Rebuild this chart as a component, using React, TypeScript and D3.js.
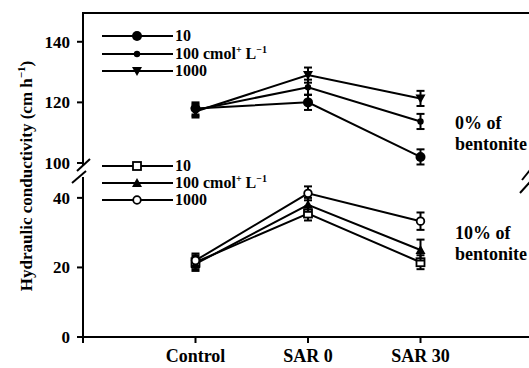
import { useEffect, useRef } from 'react';
import * as d3 from 'd3';

// x positions (index) and labels
const categories = ['Control', 'SAR 0', 'SAR 30'];

// 0% bentonite (upper panel)
const upperNames = ['10', '100', '1000'];
const upperValues = [
  [118, 120, 102],
  [117.5, 125, 113.7],
  [117, 129, 121.3],
];
const upperErrors = [
  [2, 2.5, 2.5],
  [2, 2.5, 2.5],
  [2, 2.5, 2.5],
];

// 10% bentonite (lower panel)
const lowerNames = ['10', '100', '1000'];
const lowerValues = [
  [21.5, 35.5, 21.5],
  [21, 38, 25],
  [22, 41.3, 33.3],
];
const lowerErrors = [
  [2, 2, 2],
  [2, 2, 3],
  [2, 2, 2.5],
];

const upperTicks = [100, 120, 140];
const lowerTicks = [0, 20, 40];

export default function App() {
  const ref = useRef<SVGSVGElement>(null);

  useEffect(() => {
    if (!ref.current) return;
    const svg = d3.select(ref.current);
    svg.selectAll('*').remove();
    const font = "'Liberation Serif', 'Times New Roman', Times, 'DejaVu Serif', serif";

    const x = d3.scaleLinear().domain([0, 4]).range([83, 533]);
    const yU = d3.scaleLinear().domain([99, 149.5]).range([166, 13]);
    const yL = d3.scaleLinear().domain([0, 46]).range([337, 177]);

    const g = svg.append('g').style('font-family', font);

    // frame: top line, left axis segments, bottom axis
    g.append('line').attr('x1', 83).attr('x2', 529).attr('y1', yU(149.5)).attr('y2', yU(149.5))
      .attr('stroke', '#000').attr('stroke-width', 2);
    g.append('line').attr('x1', 83).attr('x2', 83).attr('y1', yU(149.5) - 1).attr('y2', yU(99))
      .attr('stroke', '#000').attr('stroke-width', 2);
    g.append('line').attr('x1', 83).attr('x2', 83).attr('y1', yL(46)).attr('y2', yL(0))
      .attr('stroke', '#000').attr('stroke-width', 2);
    g.append('line').attr('x1', 82).attr('x2', 529).attr('y1', yL(0)).attr('y2', yL(0))
      .attr('stroke', '#000').attr('stroke-width', 2);

    // break marks
    const slashes: [number, number, number, number][] = [
      [77, 171, 90, 159], [72, 183, 86, 171],
      [522, 180, 530, 170], [520, 193, 530, 182],
    ];
    slashes.forEach(s => g.append('line').attr('x1', s[0]).attr('y1', s[1]).attr('x2', s[2]).attr('y2', s[3])
      .attr('stroke', '#000').attr('stroke-width', 2));

    // y ticks
    const yTick = (y: number, label: number) => {
      g.append('line').attr('x1', 77).attr('x2', 83).attr('y1', y).attr('y2', y)
        .attr('stroke', '#000').attr('stroke-width', 2);
      g.append('text').attr('x', 70).attr('y', y + 6).attr('text-anchor', 'end')
        .style('font-family', font).attr('font-size', 17).attr('font-weight', 'bold').text(label);
    };
    upperTicks.forEach(t => yTick(yU(t), t));
    lowerTicks.forEach(t => yTick(yL(t), t));

    // x ticks
    [0, 1, 2, 3].forEach(i => {
      g.append('line').attr('x1', x(i)).attr('x2', x(i)).attr('y1', yL(0)).attr('y2', yL(0) + 6)
        .attr('stroke', '#000').attr('stroke-width', 2);
      if (i > 0) {
        g.append('text').attr('x', x(i)).attr('y', 362).attr('text-anchor', 'middle')
          .style('font-family', font).attr('font-size', 18).attr('font-weight', 'bold').text(categories[i - 1]);
      }
    });

    // y label
    const yl = g.append('text').attr('transform', 'translate(32,176) rotate(-90)').attr('text-anchor', 'middle')
      .style('font-family', font).attr('font-size', 17).attr('font-weight', 'bold');
    yl.append('tspan').text('Hydraulic conductivity (cm h');
    yl.append('tspan').attr('font-size', 11).attr('dy', -7).text('\u2212');
    yl.append('tspan').attr('font-size', 11).text('1');
    yl.append('tspan').attr('dy', 7).text(')');

    // markers
    const marker = (sel: d3.Selection<SVGGElement, unknown, null, undefined>, kind: string, cx: number, cy: number) => {
      if (kind === 'bigdot') sel.append('circle').attr('cx', cx).attr('cy', cy).attr('r', 5).attr('fill', '#000');
      if (kind === 'dot') sel.append('circle').attr('cx', cx).attr('cy', cy).attr('r', 3.2).attr('fill', '#000');
      if (kind === 'tridown') sel.append('path').attr('d', `M${cx - 5},${cy - 4}L${cx + 5},${cy - 4}L${cx},${cy + 5}Z`).attr('fill', '#000');
      if (kind === 'triup') sel.append('path').attr('d', `M${cx - 5},${cy + 4}L${cx + 5},${cy + 4}L${cx},${cy - 5}Z`).attr('fill', '#000');
      if (kind === 'square') sel.append('rect').attr('x', cx - 4).attr('y', cy - 4).attr('width', 8).attr('height', 8)
        .attr('fill', '#fff').attr('stroke', '#000').attr('stroke-width', 1.8);
      if (kind === 'circle') sel.append('circle').attr('cx', cx).attr('cy', cy).attr('r', 3.8)
        .attr('fill', '#fff').attr('stroke', '#000').attr('stroke-width', 1.8);
    };

    const drawSeries = (vals: number[], errs: number[], y: d3.ScaleLinear<number, number>, kind: string) => {
      const sg = g.append('g');
      const line = d3.line<number>().x((_, i) => x(i + 1)).y(d => y(d));
      sg.append('path').datum(vals).attr('d', line).attr('fill', 'none').attr('stroke', '#000').attr('stroke-width', 2);
      vals.forEach((v, i) => {
        const cx = x(i + 1);
        const y1 = y(v + errs[i]), y2 = y(v - errs[i]);
        sg.append('line').attr('x1', cx).attr('x2', cx).attr('y1', y1).attr('y2', y2).attr('stroke', '#000').attr('stroke-width', 2);
        sg.append('line').attr('x1', cx - 4).attr('x2', cx + 4).attr('y1', y1).attr('y2', y1).attr('stroke', '#000').attr('stroke-width', 2);
        sg.append('line').attr('x1', cx - 4).attr('x2', cx + 4).attr('y1', y2).attr('y2', y2).attr('stroke', '#000').attr('stroke-width', 2);
      });
      vals.forEach((v, i) => marker(sg, kind, x(i + 1), y(v)));
    };

    const upperKinds = ['bigdot', 'dot', 'tridown'];
    const lowerKinds = ['square', 'triup', 'circle'];
    upperValues.forEach((v, i) => drawSeries(v, upperErrors[i], yU, upperKinds[i]));
    lowerValues.forEach((v, i) => drawSeries(v, lowerErrors[i], yL, lowerKinds[i]));

    // legends
    const legend = (names: string[], kinds: string[], ys: number[]) => {
      names.forEach((n, i) => {
        const lg = g.append('g');
        lg.append('line').attr('x1', 102).attr('x2', 173).attr('y1', ys[i]).attr('y2', ys[i])
          .attr('stroke', '#000').attr('stroke-width', 2);
        marker(lg, kinds[i], 137, ys[i]);
        const t = lg.append('text').attr('x', 175).attr('y', ys[i] + 5)
          .style('font-family', font).attr('font-size', 16).attr('font-weight', 'bold');
        t.append('tspan').text(n);
        if (n === '100') {
          t.append('tspan').text(' cmol');
          t.append('tspan').attr('font-size', 10).attr('dy', -6).text('+');
          t.append('tspan').attr('dy', 6).text(' L');
          t.append('tspan').attr('font-size', 10).attr('dy', -6).text('\u2212');
          t.append('tspan').attr('font-size', 10).text('1');
        }
      });
    };
    legend(upperNames, upperKinds, [36, 54, 71]);
    legend(lowerNames, lowerKinds, [166, 183, 200]);

    // annotations
    const note = (lines: string[], y0: number) => {
      lines.forEach((s, i) => g.append('text').attr('x', 455).attr('y', y0 + i * 21)
        .style('font-family', font).attr('font-size', 18).attr('font-weight', 'bold').text(s));
    };
    note(['0% of', 'bentonite'], 129);
    note(['10% of', 'bentonite'], 239);
  }, []);

  return (
    <svg ref={ref} width={529} height={368} viewBox="0 0 529 368"
      style={{ position: 'absolute', left: 0, top: 0, background: '#fff' }} />
  );
}
